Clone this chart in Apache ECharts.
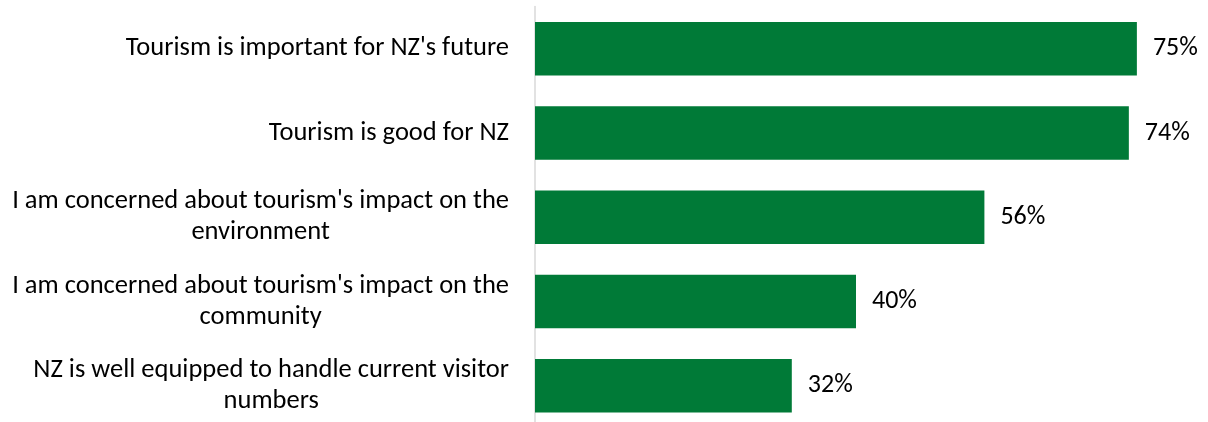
<!DOCTYPE html>
<html>
<head>
<meta charset="utf-8">
<script src="https://cdn.jsdelivr.net/npm/echarts@6/dist/echarts.min.js"></script>
<style>
  html, body { margin: 0; padding: 0; background: #fff; }
  #show-report { width: 1208px; height: 422px; }
</style>
</head>
<body>
<div id="show-report"></div>
<script>
;(function(window){

  // statements (top to bottom)
  var categories = [
    "Tourism is important for NZ's future",
    "Tourism is good for NZ",
    "I am concerned about tourism's impact on the\nenvironment",
    "I am concerned about tourism's impact on the\ncommunity",
    "NZ is well equipped to handle current visitor\nnumbers"
  ];
  // % agree
  var agreeValues = [75, 74, 56, 40, 32];

  var fontFamily = 'Carlito, Lato, sans-serif';

  var myChart = echarts.init(document.getElementById('show-report'));

  var option = {
    animation: false,
    grid: {
      left: 535,
      width: 642,
      top: 6.6,
      height: 421.4,
      outerBoundsMode: 'none'
    },
    xAxis: {
      type: 'value',
      min: 0,
      max: 80,
      show: false
    },
    yAxis: {
      type: 'category',
      inverse: true,
      data: categories,
      axisLine: { show: true, lineStyle: { color: '#d9d9d9', width: 1.5 } },
      axisTick: { show: false },
      axisLabel: {
        margin: 26,
        color: '#000',
        fontSize: 26.5,
        fontFamily: fontFamily,
        lineHeight: 31,
        formatter: function (v) { return '{c|' + v + '}'; },
        rich: {
          c: {
            align: 'center',
            color: '#000',
            fontSize: 26.5,
            fontFamily: fontFamily,
            lineHeight: 31
          }
        }
      }
    },
    series: [
      {
        type: 'bar',
        data: agreeValues,
        barWidth: '63.5%',
        itemStyle: { color: '#007a37' },
        label: {
          show: true,
          position: 'right',
          distance: 16,
          color: '#000',
          fontSize: 26,
          fontFamily: fontFamily,
          formatter: '{c}%'
        }
      }
    ]
  };

  myChart.setOption(option);
})(window)
</script>
</body>
</html>
